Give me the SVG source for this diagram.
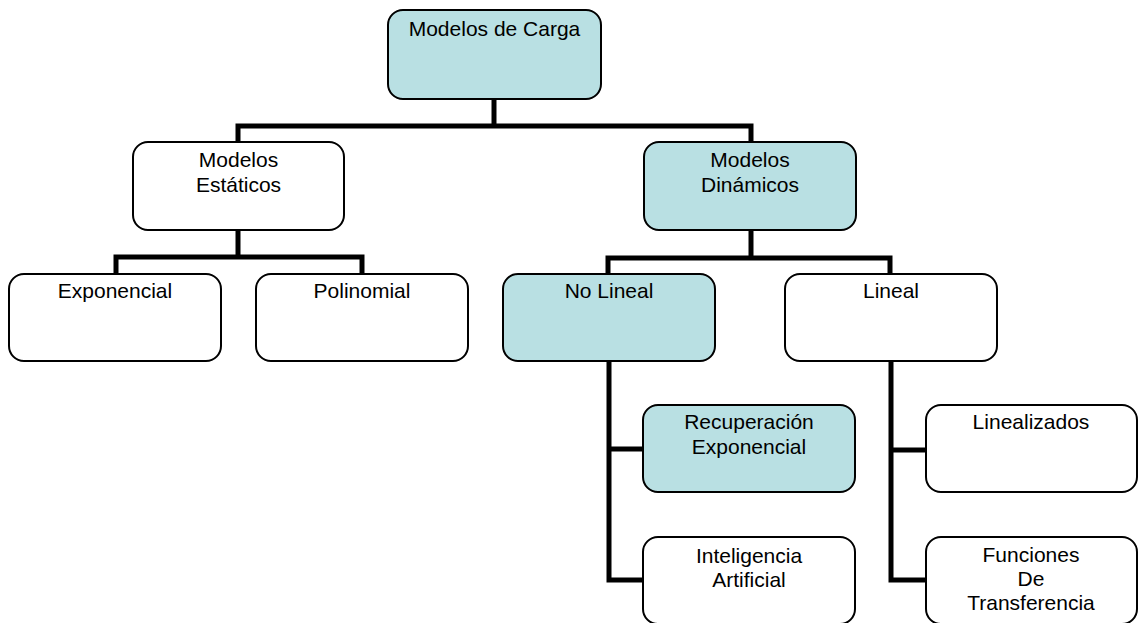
<svg xmlns="http://www.w3.org/2000/svg" width="1139" height="623" viewBox="0 0 1139 623">
<style>
.box{fill:#fff;stroke:#000;stroke-width:2}
.hl{fill:#B9E0E3}
.t{font-family:"Liberation Sans",Arial,sans-serif;font-size:21px;fill:#000;text-anchor:middle}
.c{fill:none;stroke:#000;stroke-width:5;stroke-linejoin:miter;stroke-linecap:butt}
</style>
<rect width="1139" height="623" fill="#fff"/>
<g id="connectors" class="c">
<path d="M494,99 V126"/>
<path d="M238,142 V126 H751 V142"/>
<path d="M238,230 V257"/>
<path d="M116,274 V257 H362 V274"/>
<path d="M751,230 V258"/>
<path d="M608,274 V258 H890 V274"/>
<path d="M609,361 V580 H643"/>
<path d="M609,449 H643"/>
<path d="M891,361 V580 H926"/>
<path d="M891,450 H926"/>
</g>
<g id="modelos-carga"><rect class="box hl" x="388" y="10" width="213" height="89" rx="15"/><text class="t" x="494.5" y="36">Modelos de Carga</text></g>
<g id="modelos-estaticos"><rect class="box" x="133" y="142" width="211" height="88" rx="15"/><text class="t" x="238.5" y="167">Modelos</text><text class="t" x="238.5" y="192">Estáticos</text></g>
<g id="modelos-dinamicos"><rect class="box hl" x="644" y="142" width="212" height="88" rx="15"/><text class="t" x="750" y="167">Modelos</text><text class="t" x="750" y="192">Dinámicos</text></g>
<g id="exponencial"><rect class="box" x="9" y="274" width="212" height="87" rx="15"/><text class="t" x="115" y="298">Exponencial</text></g>
<g id="polinomial"><rect class="box" x="256" y="274" width="212" height="87" rx="15"/><text class="t" x="362" y="298">Polinomial</text></g>
<g id="no-lineal"><rect class="box hl" x="503" y="274" width="212" height="87" rx="15"/><text class="t" x="609" y="298">No Lineal</text></g>
<g id="lineal"><rect class="box" x="785" y="274" width="212" height="87" rx="15"/><text class="t" x="891" y="298">Lineal</text></g>
<g id="recuperacion-exponencial"><rect class="box hl" x="643" y="405" width="212" height="87" rx="15"/><text class="t" x="749" y="429">Recuperación</text><text class="t" x="749" y="454">Exponencial</text></g>
<g id="inteligencia-artificial"><rect class="box" x="643" y="537" width="212" height="87" rx="15"/><text class="t" x="749" y="563">Inteligencia</text><text class="t" x="749" y="587">Artificial</text></g>
<g id="linealizados"><rect class="box" x="926" y="405" width="211" height="87" rx="15"/><text class="t" x="1031" y="429">Linealizados</text></g>
<g id="funciones-transferencia"><rect class="box" x="926" y="537" width="211" height="87" rx="15"/><text class="t" x="1031" y="562">Funciones</text><text class="t" x="1031" y="586">De</text><text class="t" x="1031" y="610">Transferencia</text></g>
</svg>
